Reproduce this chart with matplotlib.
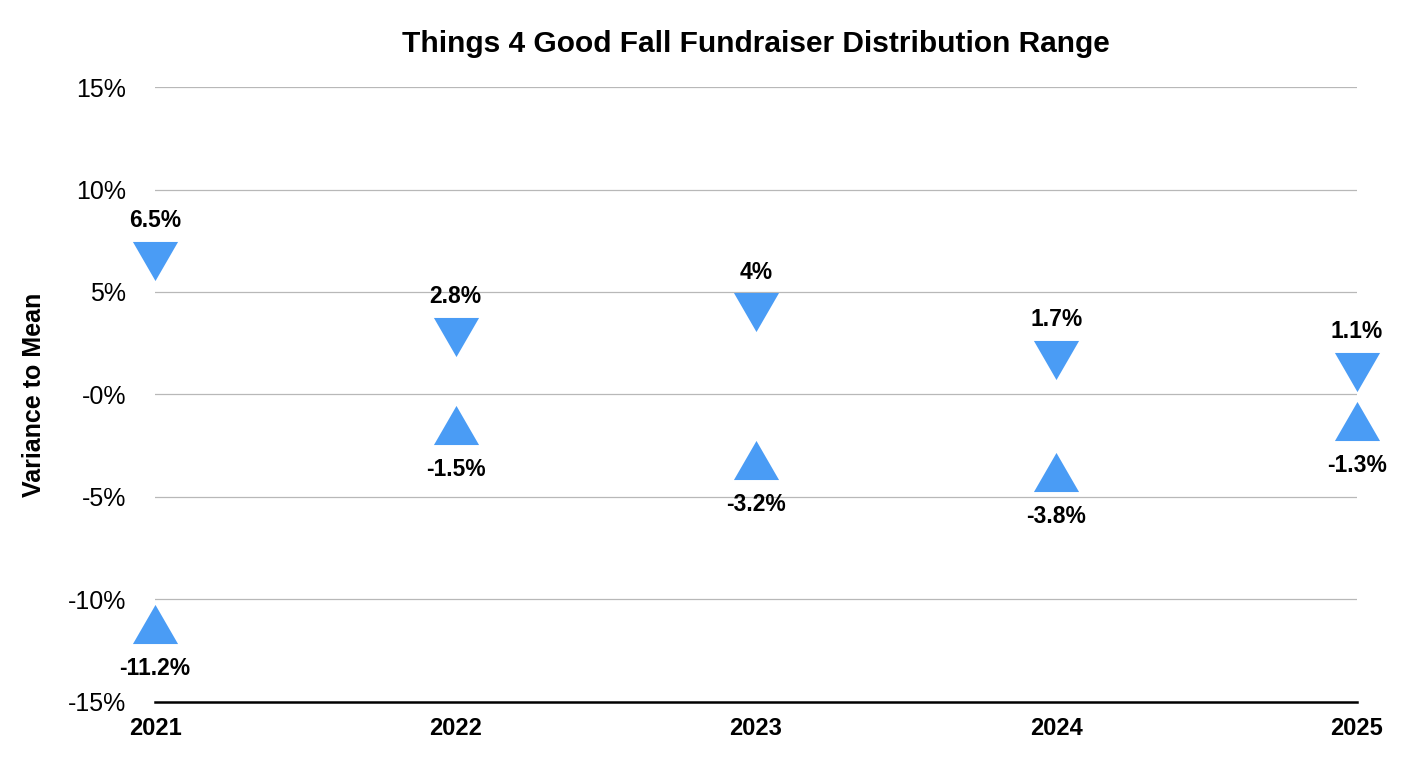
import matplotlib.pyplot as plt
from matplotlib.path import Path

years = ["2021", "2022", "2023", "2024", "2025"]
max_vals = [6.5, 2.8, 4, 1.7, 1.1]
min_vals = [-11.2, -1.5, -3.2, -3.8, -1.3]
yticks = [-15, -10, -5, 0, 5, 10, 15]
ytick_labels = ["-15%", "-10%", "-5%", "-0%", "5%", "10%", "15%"]

plt.rcParams['font.family'] = ['Liberation Sans', 'DejaVu Sans']
blue = '#4a9cf5'

# bbox-centred equilateral triangles
down_tri = Path([(-1, 0.866), (1, 0.866), (0, -0.866), (-1, 0.866)])
up_tri = Path([(-1, -0.866), (1, -0.866), (0, 0.866), (-1, -0.866)])

fig = plt.figure(figsize=(14.16, 7.66), dpi=100)
ax = fig.add_axes([0.1095, 0.0836, 0.8488, 0.8028])

x = list(range(len(years)))
ax.plot(x, max_vals, ls='none', marker=down_tri, ms=32.5, color=blue, mec='none', clip_on=False, zorder=3)
ax.plot(x, min_vals, ls='none', marker=up_tri, ms=32.5, color=blue, mec='none', clip_on=False, zorder=3)

for i in x:
    ax.annotate(f"{max_vals[i]:g}%", (i, max_vals[i]), xytext=(0, 29), textcoords='offset points',
                ha='center', va='center', fontsize=16.5, fontweight='bold')
    ax.annotate(f"{min_vals[i]:g}%", (i, min_vals[i]), xytext=(0, -32), textcoords='offset points',
                ha='center', va='center', fontsize=16.5, fontweight='bold')

ax.set_xlim(0, len(years) - 1)
ax.set_ylim(-15, 15)
ax.set_xticks(x)
ax.set_xticklabels(years, fontsize=17, fontweight='bold')
ax.set_yticks(yticks)
ax.set_yticklabels(ytick_labels, fontsize=18)
ax.tick_params(length=0)
ax.tick_params(axis='y', pad=21)
ax.tick_params(axis='x', pad=11)

for y in yticks[1:]:
    ax.axhline(y, color='#b8b8b8', lw=0.9, zorder=1)
for s in ['top', 'right', 'left']:
    ax.spines[s].set_visible(False)
ax.spines['bottom'].set_linewidth(1.8)
ax.spines['bottom'].set_color('black')

ax.set_ylabel("Variance to Mean", fontsize=18, fontweight='bold', va='center', ha='center')
ax.yaxis.set_label_coords(-0.1007, 0.5)
ax.set_title("Things 4 Good Fall Fundraiser Distribution Range", fontsize=21.5, fontweight='bold', pad=25)

fig.savefig("out.png", dpi=100)
